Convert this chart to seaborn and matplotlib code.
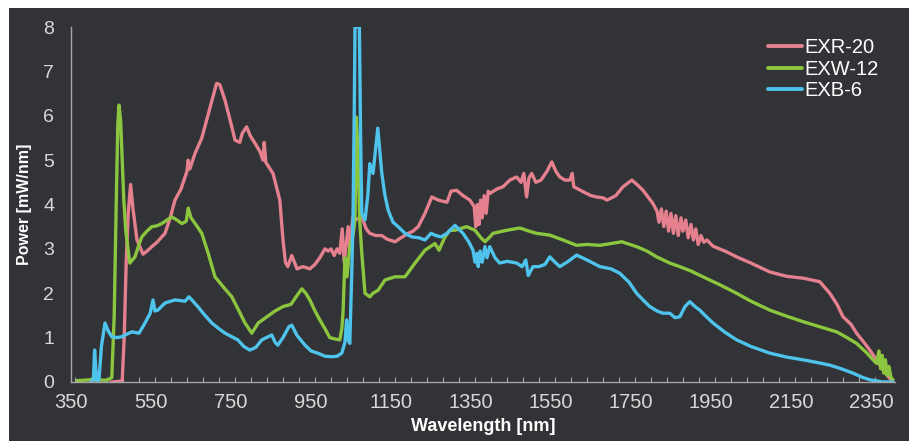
import numpy as np
import pandas as pd
import seaborn as sns
import matplotlib
matplotlib.use('Agg')
import matplotlib.pyplot as plt
from matplotlib.patches import Rectangle
from matplotlib.ticker import MultipleLocator

# EXR-20 (rosa)
exr_wl = [450, 478, 483, 488, 493, 499, 505, 515, 530, 540, 552, 565, 585, 598, 610, 625, 640, 643, 647, 660,
          677, 695, 714, 722, 735, 752, 760, 772, 778, 789, 798, 810, 822, 830, 833, 837, 855, 872, 880, 886,
          892, 902, 915, 930, 947, 960, 972, 985, 993, 1000, 1008, 1015, 1022, 1028, 1033, 1038, 1043, 1048, 1054, 1060,
          1077, 1088, 1097, 1112, 1127, 1140, 1160, 1175, 1193, 1205, 1218, 1235, 1252, 1268, 1290, 1300, 1314, 1330, 1347, 1358,
          1362, 1366, 1370, 1374, 1378, 1383, 1388, 1393, 1397, 1415, 1430, 1447, 1464, 1475, 1482, 1489, 1495, 1502, 1512, 1525,
          1540, 1552, 1562, 1572, 1585, 1597, 1603, 1607, 1630, 1650, 1664, 1680, 1690, 1697, 1712, 1730, 1752, 1765, 1780, 1805,
          1815, 1820, 1826, 1832, 1838, 1844, 1850, 1856, 1862, 1868, 1875, 1880, 1887, 1893, 1900, 1906, 1912, 1918, 1925, 1932,
          1940, 1955, 1985, 2014, 2050, 2097, 2140, 2180, 2222, 2247, 2265, 2280, 2300, 2314, 2330, 2347, 2365, 2380, 2395, 2402]
exr_pw = [0, 0.02, 1.0, 2.7, 3.8, 4.45, 3.9, 3.2, 2.88, 2.95, 3.05, 3.15, 3.35, 3.7, 4.1, 4.35, 4.75, 5.0, 4.8, 5.15,
          5.5, 6.1, 6.73, 6.7, 6.35, 5.75, 5.45, 5.4, 5.6, 5.75, 5.55, 5.38, 5.2, 5.0, 5.4, 4.95, 4.7, 4.1, 3.2, 2.7,
          2.6, 2.85, 2.55, 2.6, 2.55, 2.65, 2.8, 3.0, 2.95, 3.0, 2.85, 3.0, 2.9, 3.45, 2.7, 3.1, 3.5, 2.9, 3.7, 3.65,
          3.72, 3.45, 3.35, 3.3, 3.3, 3.22, 3.16, 3.25, 3.35, 3.4, 3.5, 3.8, 4.17, 4.1, 4.05, 4.3, 4.32, 4.2, 4.1, 3.95,
          3.5, 4.0, 3.55, 4.1, 3.7, 4.2, 3.8, 4.3, 4.25, 4.35, 4.4, 4.55, 4.62, 4.5, 4.7, 4.17, 4.6, 4.7, 4.5, 4.55,
          4.75, 4.96, 4.75, 4.62, 4.55, 4.55, 4.7, 4.4, 4.29, 4.2, 4.17, 4.15, 4.1, 4.13, 4.2, 4.4, 4.55, 4.45, 4.32, 4.02,
          3.85, 3.6, 3.9, 3.5, 3.85, 3.4, 3.8, 3.35, 3.75, 3.3, 3.7, 3.4, 3.65, 3.25, 3.55, 3.2, 3.45, 3.1, 3.3, 3.15,
          3.2, 3.06, 2.95, 2.82, 2.68, 2.48, 2.38, 2.34, 2.26, 2.0, 1.75, 1.47, 1.3, 1.1, 0.92, 0.72, 0.48, 0.27, 0.1, 0.03]

# EXW-12 (yesil)
exw_wl = [365, 400, 440, 452, 458, 463, 467, 470, 474, 478, 482, 487, 497, 510, 520, 527, 540, 552, 565, 577,
          590, 602, 615, 627, 638, 643, 650, 662, 677, 693, 710, 730, 752, 770, 785, 802, 818, 840, 860, 880,
          900, 915, 927, 937, 947, 960, 972, 985, 997, 1010, 1022, 1027, 1030, 1035, 1040, 1047, 1055, 1060, 1063, 1066,
          1072, 1077, 1085, 1097, 1105, 1118, 1135, 1160, 1185, 1210, 1235, 1260, 1270, 1285, 1297, 1310, 1339, 1360, 1375, 1385,
          1395, 1405, 1440, 1472, 1495, 1514, 1547, 1580, 1614, 1640, 1672, 1700, 1727, 1764, 1790, 1814, 1847, 1872, 1900, 1930,
          1970, 2014, 2050, 2097, 2140, 2180, 2220, 2264, 2290, 2314, 2340, 2355, 2364, 2370, 2374, 2378, 2382, 2386, 2390, 2395,
          2400, 2405]
exw_pw = [0.03, 0.05, 0.04, 0.1, 1.5, 4.0, 5.8, 6.24, 5.9, 5.0, 4.1, 3.4, 2.68, 2.82, 3.1, 3.27, 3.4, 3.5, 3.52, 3.57,
          3.65, 3.72, 3.65, 3.57, 3.62, 3.92, 3.7, 3.55, 3.35, 2.9, 2.37, 2.15, 1.92, 1.6, 1.33, 1.1, 1.33, 1.47, 1.6, 1.7,
          1.75, 1.95, 2.1, 2.0, 1.85, 1.6, 1.4, 1.2, 1.0, 0.97, 0.95, 1.2, 1.55, 2.8, 2.37, 3.05, 3.3, 3.65, 5.97, 5.5,
          3.6, 2.9, 2.0, 1.92, 2.0, 2.07, 2.3, 2.37, 2.37, 2.68, 2.97, 3.12, 2.97, 3.27, 3.42, 3.42, 3.5, 3.42, 3.25, 3.16,
          3.25, 3.35, 3.42, 3.47, 3.4, 3.35, 3.31, 3.2, 3.08, 3.1, 3.08, 3.12, 3.16, 3.05, 2.95, 2.82, 2.68, 2.6, 2.5, 2.37,
          2.2, 2.0, 1.82, 1.62, 1.48, 1.36, 1.25, 1.13, 1.0, 0.87, 0.65, 0.5, 0.42, 0.7, 0.3, 0.6, 0.2, 0.5, 0.15, 0.35,
          0.1, 0.05]

# EXB-6 (mavi)
exb_wl = [400, 406, 409, 412, 415, 420, 426, 435, 443, 452, 465, 477, 490, 502, 520, 535, 548, 555, 560, 567,
          585, 610, 635, 645, 667, 685, 702, 720, 735, 767, 782, 797, 812, 827, 852, 860, 867, 880, 895, 902,
          915, 935, 950, 967, 985, 1002, 1015, 1027, 1035, 1039, 1043, 1047, 1052, 1055, 1058, 1060, 1071, 1074, 1077, 1085,
          1092, 1097, 1105, 1111, 1117, 1122, 1127, 1135, 1143, 1155, 1168, 1185, 1202, 1220, 1235, 1250, 1262, 1275, 1290, 1310,
          1330, 1345, 1355, 1360, 1365, 1368, 1373, 1378, 1385, 1390, 1397, 1410, 1422, 1440, 1464, 1478, 1487, 1493, 1505, 1520,
          1535, 1547, 1560, 1572, 1590, 1614, 1640, 1672, 1700, 1722, 1745, 1764, 1780, 1797, 1815, 1830, 1847, 1860, 1872, 1885,
          1897, 1910, 1922, 1935, 1955, 1985, 2014, 2050, 2097, 2140, 2180, 2215, 2247, 2275, 2305, 2330, 2347, 2380, 2405]
exb_pw = [0, 0.05, 0.72, 0.3, 0.02, 0.05, 0.8, 1.33, 1.15, 1.02, 1.0, 1.02, 1.08, 1.13, 1.1, 1.33, 1.55, 1.85, 1.6, 1.62,
          1.78, 1.85, 1.82, 1.92, 1.7, 1.5, 1.33, 1.2, 1.1, 0.95, 0.8, 0.72, 0.78, 0.95, 1.06, 0.9, 0.83, 1.0, 1.25, 1.28,
          1.05, 0.83, 0.7, 0.65, 0.58, 0.57, 0.58, 0.65, 0.9, 1.4, 0.95, 0.87, 2.5, 3.65, 6.0, 8.0, 8.0, 5.5, 3.8, 3.65,
          4.2, 4.92, 4.7, 5.2, 5.72, 5.2, 4.7, 4.2, 3.87, 3.6, 3.5, 3.35, 3.27, 3.25, 3.2, 3.35, 3.3, 3.27, 3.35, 3.53,
          3.35, 3.15, 2.97, 2.7, 2.9, 2.6, 2.95, 2.7, 3.05, 2.8, 3.05, 2.8, 2.68, 2.72, 2.68, 2.6, 2.75, 2.4, 2.6, 2.6,
          2.65, 2.82, 2.7, 2.6, 2.7, 2.86, 2.75, 2.6, 2.55, 2.45, 2.25, 2.0, 1.85, 1.7, 1.6, 1.55, 1.55, 1.45, 1.47, 1.7,
          1.81, 1.7, 1.62, 1.5, 1.33, 1.12, 0.95, 0.8, 0.65, 0.56, 0.5, 0.44, 0.38, 0.3, 0.2, 0.1, 0.05, 0.0, 0.0]

names = ["EXR-20", "EXW-12", "EXB-6"]
colors = ["#e5808f", "#8cc63f", "#4ec3ec"]

bg = "#313336"
fg = "#d8d8d8"

sns.set_theme(style="dark")
plt.rcParams['font.family'] = ['Liberation Sans', 'DejaVu Sans']

fig = plt.figure(figsize=(9.09, 4.41), dpi=100)
fig.patch.set_facecolor("white")
fig.patches.append(Rectangle((9 / 909, 0), 1, 433 / 441, transform=fig.transFigure,
                             facecolor=bg, edgecolor="none", zorder=-10))
ax = fig.add_axes([71 / 909, 59 / 441, 824 / 909, 355 / 441])
ax.set_facecolor(bg)

series = [(exr_wl, exr_pw), (exw_wl, exw_pw), (exb_wl, exb_pw)]
for (wl, pw), name, c in zip(series, names, colors):
    df = pd.DataFrame({"wl": wl, "pw": pw})
    sns.lineplot(data=df, x="wl", y="pw", ax=ax, color=c, lw=2.4,
                 estimator=None, sort=False, label=name)

ax.set_xlim(350, 2410)
ax.set_ylim(0, 8)
ax.xaxis.set_minor_locator(MultipleLocator(40))
ax.set_xticks(np.arange(350, 2351, 200))
ax.set_yticks(np.arange(0, 9, 1))
ax.tick_params(axis="x", which="major", direction="in", length=7, width=1, color="#a8a8a8",
               labelcolor=fg, labelsize=14.5, pad=8)
ax.tick_params(axis="x", which="minor", direction="in", length=3.5, width=0.8, color="#a8a8a8", bottom=True)
ax.tick_params(axis="y", length=0, labelcolor=fg, labelsize=14, pad=12)
ax.grid(False)

for s in ["top", "right"]:
    ax.spines[s].set_visible(False)
for s in ["left", "bottom"]:
    ax.spines[s].set_color("#a8a8a8")
    ax.spines[s].set_linewidth(1)

ax.set_xlabel("Wavelength [nm]", color="white", fontsize=13, fontweight="bold", labelpad=4)
ax.set_ylabel("Power [mW/nm]", color="white", fontsize=11.5, fontweight="bold", labelpad=8)

leg = ax.legend(loc="upper left", bbox_to_anchor=(0.846, 0.968), frameon=False, fontsize=14.5,
                handlelength=1.7, handletextpad=0.12, labelspacing=0.12, borderpad=0, borderaxespad=0)
for t in leg.get_texts():
    t.set_color("white")
for l in leg.get_lines():
    l.set_linewidth(2.8)

fig.savefig("out.png", dpi=100, facecolor=fig.get_facecolor())
